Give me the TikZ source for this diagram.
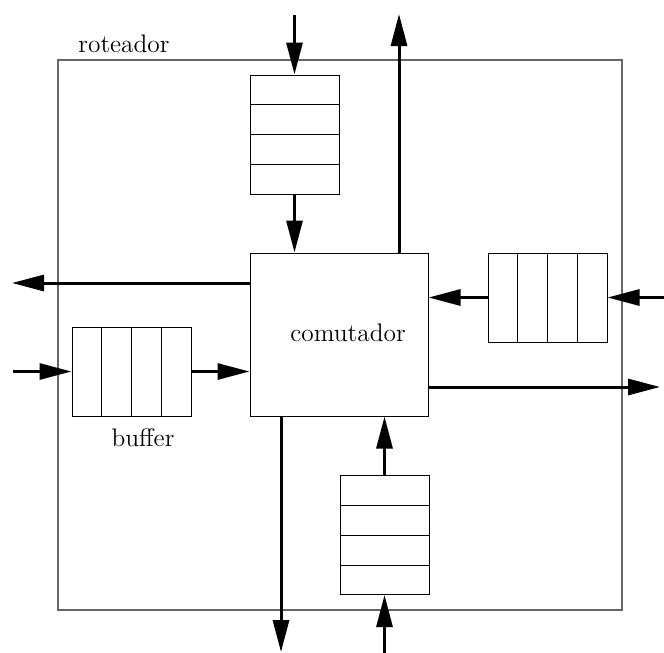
\documentclass[tikz,border=0pt]{standalone}
\usetikzlibrary{arrows.meta,calc}
\begin{document}
\begin{tikzpicture}[x=0.5pt,y=-0.5pt,
  box/.style={draw=black,line width=0.5pt,inner sep=0pt,rectangle},
  vbuf/.style={box,minimum width=44.5pt,minimum height=59.5pt},
  hbuf/.style={box,minimum width=59.5pt,minimum height=44.5pt},
  flow/.style={line width=1.5pt,-{Triangle[length=16pt,width=8pt]}},
  cell/.style={line width=0.5pt},
  lbl/.style={font=\fontsize{12.7}{15}\selectfont,inner sep=0pt}]
\useasboundingbox (0,0) rectangle (664,653);
% outer router
\draw[black!60,line width=0.7pt] (58,60) rectangle (622,610);
\node[lbl] (rot) at (124,44) {roteador};
% switch
\node[box,minimum width=89pt,minimum height=81.5pt] (sw) at (339,334.5) {};
\node[lbl] (swl) at (348,333) {comutador};
% buffers
\node[vbuf] (tb) at (294.5,134.5) {};
\node[vbuf] (bb) at (384.5,535) {};
\node[hbuf] (rb) at (547.5,297.5) {};
\node[hbuf] (lb) at (131.5,371.5) {};
\node[lbl] (bufl) at (143,438) {buffer};
% cell divisions
\foreach \f in {0.25,0.5,0.75}{
  \draw[cell] ($(tb.north west)!\f!(tb.south west)$) -- ($(tb.north east)!\f!(tb.south east)$);
  \draw[cell] ($(bb.north west)!\f!(bb.south west)$) -- ($(bb.north east)!\f!(bb.south east)$);
  \draw[cell] ($(rb.north west)!\f!(rb.north east)$) -- ($(rb.south west)!\f!(rb.south east)$);
  \draw[cell] ($(lb.north west)!\f!(lb.north east)$) -- ($(lb.south west)!\f!(lb.south east)$);
}
% free ends
\coordinate (tin) at (294.5,15);
\coordinate (uout) at (399,14);
\coordinate (lout) at (12,283);
\coordinate (lin) at (13,371.5);
\coordinate (rin) at (664,297.5);
\coordinate (rout) at (660,387);
\coordinate (dout) at (281,652);
\coordinate (bin) at (384.5,653);
% connectors
\draw[flow] (tin) -- (tb.north);
\draw[flow] (tb.south) -- (tb.south |- sw.north);
\draw[flow] (sw.north -| uout) -- (uout);
\draw[flow] (sw.west |- lout) -- (lout);
\draw[flow] (rin) -- (rb.east);
\draw[flow] (rb.west) -- (rb.west -| sw.east);
\draw[flow] (lin) -- (lb.west);
\draw[flow] (lb.east) -- (lb.east -| sw.west);
\draw[flow] (sw.east |- rout) -- (rout);
\draw[flow] (sw.south -| dout) -- (dout);
\draw[flow] (bin) -- (bb.south);
\draw[flow] (bb.north) -- (bb.north |- sw.south);
\end{tikzpicture}
\end{document}
